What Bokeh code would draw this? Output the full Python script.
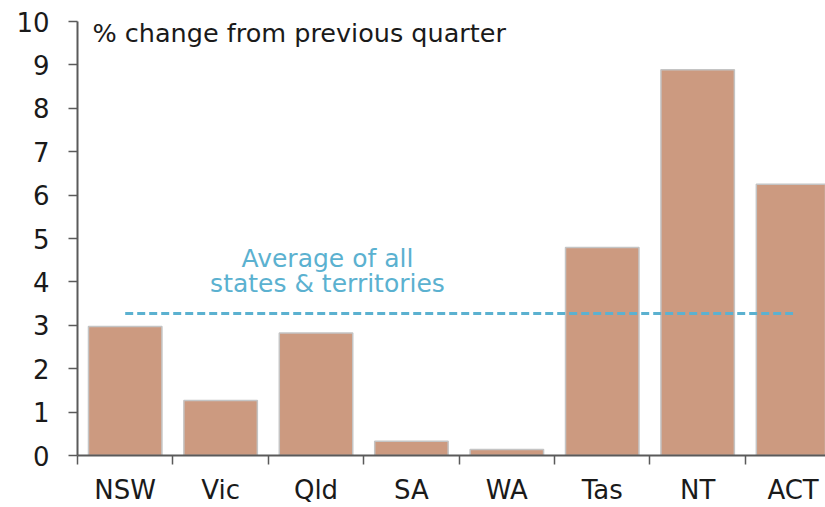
from bokeh.plotting import figure
from bokeh.models import Range1d, FixedTicker, Label
from bokeh.core.properties import value
from bokeh.embed import file_html
from bokeh.resources import INLINE

states = ["NSW", "Vic", "Qld", "SA", "WA", "Tas", "NT", "ACT"]
values = [2.97, 1.27, 2.82, 0.33, 0.14, 4.79, 8.89, 6.25]
average = 3.27
y_ticks = list(range(0, 11))
title_text = "% change from previous quarter"
avg_label = ["Average of all", "states & territories"]

FONT = "DejaVu Sans"
BAR = "#CC9A80"
BLUE = "#5BB1D0"
AXIS = "#5a5a5a"
TXT = "#1a1a1a"

n = len(states)
centers = list(range(n))
bounds = [i - 0.5 for i in range(n + 1)]

p = figure(width=825, height=507, output_backend="svg", toolbar_location=None,
           x_range=Range1d(-0.5, 7.34), y_range=Range1d(0, 10),
           min_border_left=77, min_border_right=0, min_border_top=21,
           min_border_bottom=50)
p.outline_line_color = None
p.grid.visible = False

p.vbar(x=centers, top=values, width=0.77, fill_color=BAR,
       line_color="#C4C4C4", line_width=1.5)

# average dashed line from first to last category centre
p.line(x=[centers[0], centers[-1]], y=[average, average], line_color=BLUE,
       line_width=3, line_dash="8 4")

p.text(x=[2.12, 2.12], y=[4.545, 3.97], text=avg_label, text_align="center",
       text_baseline="alphabetic", text_color=BLUE, text_font=value(FONT),
       text_font_size="25px")

p.add_layout(Label(x=-0.343, y=10, y_offset=-11, text=title_text,
                   text_baseline="alphabetic", text_font=FONT,
                   text_font_size="25.5px", text_color=TXT))

xa = p.xaxis[0]
xa.ticker = FixedTicker(ticks=centers, minor_ticks=bounds)
xa.major_label_overrides = {c: s for c, s in zip(centers, states)}
xa.major_tick_line_color = None
xa.major_tick_out = 0
xa.major_tick_in = 0
xa.minor_tick_out = 9
xa.minor_tick_in = 0
xa.minor_tick_line_color = AXIS
xa.minor_tick_line_width = 1.5
xa.axis_line_color = AXIS
xa.axis_line_width = 2
xa.major_label_standoff = 10
xa.major_label_text_font = FONT
xa.major_label_text_font_size = "26px"
xa.major_label_text_color = TXT

ya = p.yaxis[0]
ya.ticker = FixedTicker(ticks=y_ticks, minor_ticks=[])
ya.major_tick_out = 9
ya.major_tick_in = 0
ya.major_tick_line_color = AXIS
ya.major_tick_line_width = 1.5
ya.axis_line_color = AXIS
ya.axis_line_width = 2
ya.major_label_standoff = 19
ya.major_label_text_font = FONT
ya.major_label_text_font_size = "26px"
ya.major_label_text_color = TXT

open("out.html", "w").write(file_html(p, INLINE))
